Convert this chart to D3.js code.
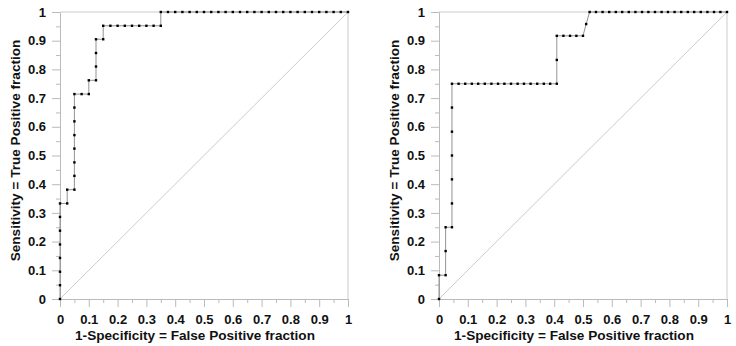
<!DOCTYPE html>
<html>
<head>
<meta charset="utf-8">
<script src="https://cdn.jsdelivr.net/npm/d3@7"></script>
<style>
  body { margin: 0; background: #fff; }
  svg { display: block; font-family: "Liberation Sans", Arial, sans-serif; }
  .axis text { font-weight: bold; font-size: 13px; fill: #111; }
  .axis path, .axis line { stroke: #bbb; }
  .title { font-weight: bold; font-size: 13.6px; fill: #111; }
</style>
</head>
<body>
<svg id="chart"></svg>
<script>
// ROC points, left panel (1-specificity, sensitivity)
const leftFpr = [0, 0, 0, 0, 0, 0, 0, 0,
  0.025, 0.025, 0.05, 0.05, 0.05, 0.05, 0.05, 0.05, 0.05, 0.05,
  0.075, 0.1, 0.1, 0.125, 0.125, 0.125, 0.125, 0.15, 0.15,
  0.175, 0.2, 0.225, 0.25, 0.275, 0.3, 0.325, 0.35, 0.35,
  0.375, 0.4, 0.425, 0.45, 0.475, 0.5, 0.525, 0.55, 0.575, 0.6, 0.625, 0.65, 0.675,
  0.7, 0.725, 0.75, 0.775, 0.8, 0.825, 0.85, 0.875, 0.9, 0.925, 0.95, 0.975, 1];
const leftTpr = [0, 0.048, 0.095, 0.143, 0.19, 0.238, 0.286, 0.333,
  0.333, 0.381, 0.381, 0.429, 0.476, 0.524, 0.571, 0.619, 0.667, 0.714,
  0.714, 0.714, 0.762, 0.762, 0.81, 0.857, 0.905, 0.905, 0.952,
  0.952, 0.952, 0.952, 0.952, 0.952, 0.952, 0.952, 0.952, 1,
  1, 1, 1, 1, 1, 1, 1, 1, 1, 1, 1, 1, 1,
  1, 1, 1, 1, 1, 1, 1, 1, 1, 1, 1, 1, 1];

// ROC points, right panel
const rightFpr = [0, 0, 0.023, 0.023, 0.023, 0.045, 0.045, 0.045, 0.045, 0.045, 0.045, 0.045,
  0.068, 0.091, 0.114, 0.136, 0.159, 0.182, 0.205, 0.227, 0.25, 0.273, 0.295, 0.318, 0.341, 0.364, 0.386, 0.409,
  0.409, 0.409, 0.432, 0.455, 0.477, 0.5, 0.511, 0.523,
  0.545, 0.568, 0.591, 0.614, 0.636, 0.659, 0.682, 0.705, 0.727, 0.75, 0.773,
  0.795, 0.818, 0.841, 0.864, 0.886, 0.909, 0.932, 0.955, 0.977, 1];
const rightTpr = [0, 0.083, 0.083, 0.167, 0.25, 0.25, 0.333, 0.417, 0.5, 0.583, 0.667, 0.75,
  0.75, 0.75, 0.75, 0.75, 0.75, 0.75, 0.75, 0.75, 0.75, 0.75, 0.75, 0.75, 0.75, 0.75, 0.75, 0.75,
  0.833, 0.917, 0.917, 0.917, 0.917, 0.917, 0.958, 1,
  1, 1, 1, 1, 1, 1, 1, 1, 1, 1, 1,
  1, 1, 1, 1, 1, 1, 1, 1, 1, 1];

const majorTicks = [0, 0.1, 0.2, 0.3, 0.4, 0.5, 0.6, 0.7, 0.8, 0.9, 1];
const minorTicks = [0.05, 0.15, 0.25, 0.35, 0.45, 0.55, 0.65, 0.75, 0.85, 0.95];
const tickLabels = ['0', '0.1', '0.2', '0.3', '0.4', '0.5', '0.6', '0.7', '0.8', '0.9', '1'];
const xTitle = '1-Specificity = False Positive fraction';
const yTitle = 'Sensitivity = True Positive fraction';

const width = 736;
const height = 346;
const plotW = 288;
const plotH = 287;
const plotTop = 12;

const svg = d3.select('#chart')
  .attr('width', width)
  .attr('height', height);

function drawPanel(left, fpr, tpr) {
  const g = svg.append('g')
    .attr('transform', `translate(${left},${plotTop})`);

  const x = d3.scaleLinear().domain([0, 1]).range([0, plotW]);
  const y = d3.scaleLinear().domain([0, 1]).range([plotH, 0]);

  // top and right frame
  g.append('line')
    .attr('x1', x(0)).attr('x2', x(1))
    .attr('y1', y(1)).attr('y2', y(1))
    .attr('stroke', '#ccc');
  g.append('line')
    .attr('x1', x(1)).attr('x2', x(1))
    .attr('y1', y(0)).attr('y2', y(1))
    .attr('stroke', '#ccc');

  // reference diagonal
  g.append('line')
    .attr('x1', x(0)).attr('y1', y(0))
    .attr('x2', x(1)).attr('y2', y(1))
    .attr('stroke', '#ccc');

  // minor ticks
  g.append('g')
    .attr('class', 'axis')
    .attr('transform', `translate(0,${plotH})`)
    .call(d3.axisBottom(x).tickValues(minorTicks).tickSize(4).tickFormat(''))
    .call(s => s.select('.domain').remove());
  g.append('g')
    .attr('class', 'axis')
    .call(d3.axisLeft(y).tickValues(minorTicks).tickSize(4).tickFormat(''))
    .call(s => s.select('.domain').remove());

  // major ticks and labels
  g.append('g')
    .attr('class', 'axis')
    .attr('transform', `translate(0,${plotH})`)
    .call(d3.axisBottom(x).tickValues(majorTicks).tickSize(8).tickSizeOuter(0)
      .tickPadding(8).tickFormat((d, i) => tickLabels[i]));
  g.append('g')
    .attr('class', 'axis')
    .call(d3.axisLeft(y).tickValues(majorTicks).tickSize(8).tickSizeOuter(0)
      .tickPadding(6).tickFormat((d, i) => tickLabels[i]));

  // ROC curve
  const pts = fpr.map((d, i) => [d, tpr[i]]);
  const line = d3.line()
    .x(d => x(d[0]))
    .y(d => y(d[1]));

  g.append('path')
    .datum(pts)
    .attr('fill', 'none')
    .attr('stroke', '#777')
    .attr('stroke-width', 0.8)
    .attr('d', line);

  g.selectAll('rect.pt')
    .data(pts)
    .enter().append('rect')
    .attr('class', 'pt')
    .attr('x', d => x(d[0]) - 1.2)
    .attr('y', d => y(d[1]) - 1.2)
    .attr('width', 2.4)
    .attr('height', 2.4)
    .attr('fill', '#000');

  // titles
  g.append('text')
    .attr('class', 'title')
    .attr('x', plotW / 2 - 9)
    .attr('y', plotH + 41)
    .attr('text-anchor', 'middle')
    .text(xTitle);

  g.append('text')
    .attr('class', 'title')
    .attr('transform', `translate(-40,${plotH / 2 - 5}) rotate(-90)`)
    .attr('text-anchor', 'middle')
    .text(yTitle);
}

drawPanel(60, leftFpr, leftTpr);
drawPanel(439, rightFpr, rightTpr);
</script>
</body>
</html>
